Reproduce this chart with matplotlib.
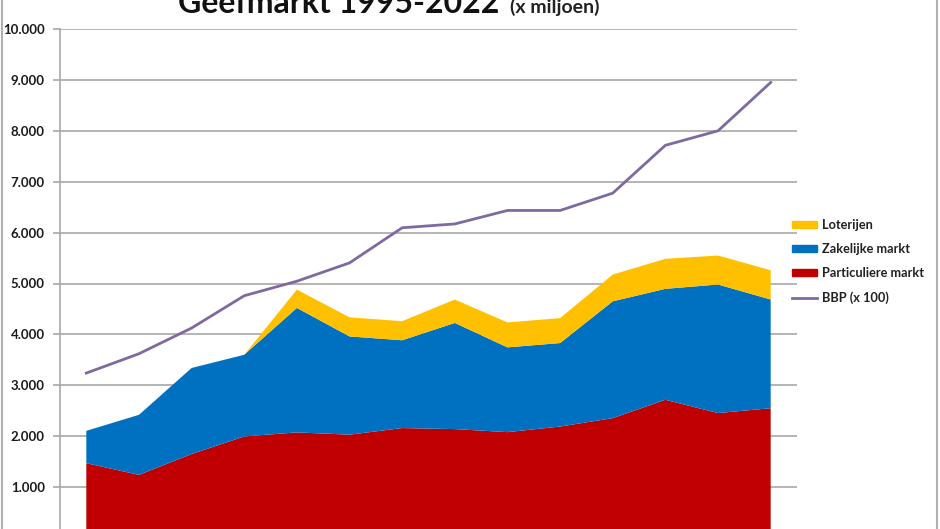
import numpy as np
import matplotlib
matplotlib.use("Agg")
import matplotlib.pyplot as plt
from matplotlib.patches import Patch
from matplotlib.lines import Line2D
from matplotlib.ticker import FuncFormatter

plt.rcParams['font.family'] = ['Lato', 'DejaVu Sans']

# data (x miljoen euro)
jaren = ['1995', '1997', '1999', '2001', '2003', '2005', '2007',
         '2009', '2011', '2013', '2015', '2017', '2019', '2022']
particulier = [1470, 1240, 1650, 1995, 2075, 2030, 2160, 2140, 2080, 2190, 2355, 2715, 2455, 2550]
zakelijk = [635, 1180, 1690, 1605, 2445, 1930, 1725, 2085, 1665, 1640, 2295, 2180, 2525, 2135]
loterijen = [0, 0, 0, 0, 360, 375, 375, 460, 490, 490, 525, 590, 570, 575]
bbp = [3240, 3620, 4125, 4760, 5045, 5405, 6095, 6170, 6435, 6435, 6775, 7715, 8000, 8950]

c_lot = '#FFC000'
c_zak = '#0070C0'
c_par = '#C00000'
c_bbp = '#7F6AA0'
grid_c = '#A8A8A8'

fig = plt.figure(figsize=(9.4, 5.29), dpi=100)
ax = fig.add_axes([60 / 940, 1 - 538 / 529, 737 / 940, 509 / 529])

x = np.arange(len(jaren))
ax.stackplot(x, particulier, zakelijk, loterijen,
             colors=[c_par, c_zak, c_lot], linewidth=0, zorder=2)
ax.plot(x, bbp, color=c_bbp, lw=2.0, zorder=3)

ax.set_xlim(-0.5, len(jaren) - 0.5)
ax.set_ylim(0, 10000)
ax.set_yticks(np.arange(0, 10001, 1000))
ax.yaxis.set_major_formatter(FuncFormatter(lambda v, p: f"{int(v):,}".replace(",", ".")))
# the year labels fall below the cropped picture, so none are drawn
ax.set_xticks([])
ax.grid(axis='y', color=grid_c, lw=1.2, zorder=0)
ax.set_axisbelow(True)
for s in ['top', 'right', 'bottom']:
    ax.spines[s].set_visible(False)
ax.spines['left'].set_color(grid_c)
ax.spines['left'].set_linewidth(1.2)
ax.tick_params(axis='y', length=5, color=grid_c, width=1.2, pad=6,
               labelsize=9.5, labelcolor='#1a1a1a')
for t in ax.get_yticklabels():
    t.set_fontweight('bold')
    if t.get_text() == '0':
        t.set_visible(False)

# title, partly cut off at the top
fig.text(178 / 940, 1 - 13 / 529, "Geefmarkt 1995-2022", fontsize=23,
         fontweight='bold', color='#111111', ha='left', va='baseline')
fig.text(510 / 940, 1 - 13 / 529, "(x miljoen)", fontsize=14,
         fontweight='bold', color='#222222', ha='left', va='baseline')

handles = [Patch(color=c_lot), Patch(color=c_zak), Patch(color=c_par),
           Line2D([], [], color=c_bbp, lw=2.0)]
labels = ['Loterijen', 'Zakelijke markt', 'Particuliere markt', 'BBP (x 100)']
leg = fig.legend(handles, labels, loc='center left', bbox_to_anchor=(0.837, 0.5057),
                 frameon=False, fontsize=9.2, handlelength=2.0, handleheight=0.5,
                 handletextpad=0.35, labelspacing=0.95, borderaxespad=0)
for t in leg.get_texts():
    t.set_fontweight('bold')
    t.set_color('#222222')

# chart border
fig.add_artist(Line2D([1.5 / 940, 1.5 / 940], [0, 1], color='#B0B0B0', lw=1.5))
fig.add_artist(Line2D([937 / 940, 937 / 940], [0, 1], color='#B0B0B0', lw=1.5))

fig.savefig("out.png", dpi=100)
